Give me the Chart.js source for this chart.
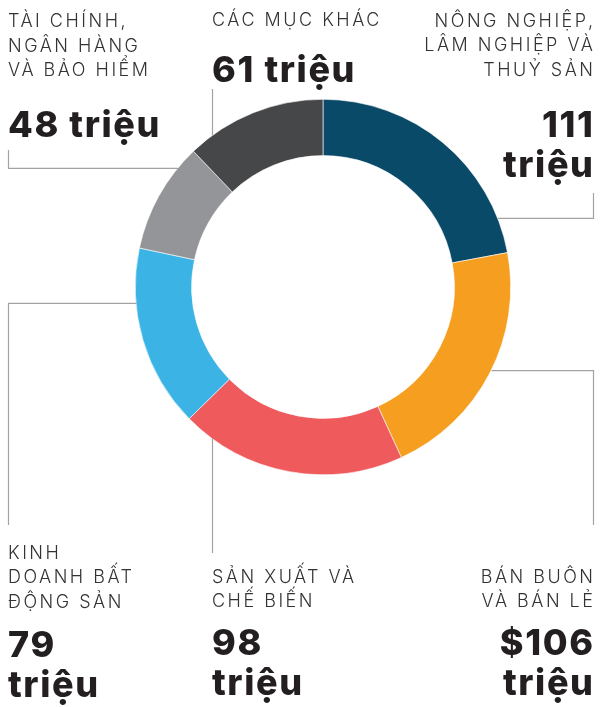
<!DOCTYPE html>
<html lang="vi">
<head>
<meta charset="utf-8">
<title>Doughnut</title>
<script src="https://cdn.jsdelivr.net/npm/chart.js@4.4.1/dist/chart.umd.min.js"></script>
<style>
    body { margin: 0; background: #fff; }
    #wrap { position: relative; width: 603px; height: 707px; overflow: hidden; }
    #wrap canvas { position: absolute; left: 0; top: 0; }
    .lbl {
        position: absolute;
        font-family: Inter, "Noto Sans", sans-serif;
        font-weight: 300;
        font-size: 18px;
        line-height: 24.5px;
        letter-spacing: 2.5px;
        color: #333;
        white-space: nowrap;
    }
    .num {
        position: absolute;
        font-family: Inter, "Noto Sans", sans-serif;
        font-weight: 800;
        font-size: 36px;
        line-height: 40px;
        letter-spacing: 1.6px;
        color: #231f20;
        white-space: nowrap;
    }
    .right { text-align: right; }
    .lbl.right { margin-right: -2.5px; }
    .num.right { margin-right: -1.6px; }
</style>
</head>
<body>
<div id="wrap">
    <canvas id="donut" width="603" height="707"></canvas>
</div>
<script>
// data, clockwise from 12 o'clock
const categories = [
    ['NÔNG NGHIỆP,', 'LÂM NGHIỆP VÀ', 'THUỶ SẢN'],
    ['BÁN BUÔN', 'VÀ BÁN LẺ'],
    ['SẢN XUẤT VÀ', 'CHẾ BIẾN'],
    ['KINH', 'DOANH BẤT', 'ĐỘNG SẢN'],
    ['TÀI CHÍNH,', 'NGÂN HÀNG', 'VÀ BẢO HIỂM'],
    ['CÁC MỤC KHÁC']
];
const values = [111, 106, 98, 79, 48, 61];
const valueLabels = [
    ['111', 'triệu'],
    ['$106', 'triệu'],
    ['98', 'triệu'],
    ['79', 'triệu'],
    ['48 triệu'],
    ['61 triệu']
];
const colors = ['#0a4a69', '#f59e1f', '#ef5a5c', '#3bb4e5', '#939598', '#464749'];

// where each label block sits (page pixels)
const labelPos = [
    { right: 10, top: 8.5, numTop: 103.5 },
    { right: 10, top: 564.5, numTop: 621.8 },
    { left: 212, top: 564.5, numTop: 621.8 },
    { left: 8, top: 540.5, numTop: 623.5 },
    { left: 8, top: 9.2, numTop: 103.8 },
    { left: 212, top: 8.2, numTop: 48.5 }
];

// leader lines: points, last one snaps onto the ring ('h' = along a row, 'v' = along a column)
const leaders = [
    { pts: [[593, 193], [593, 218.3]], snap: 'h', side: 1 },
    { pts: [[593, 525], [593, 370.7]], snap: 'h', side: 1 },
    { pts: [[212, 553]], snap: 'v', side: 1 },
    { pts: [[8, 525], [8, 303.3]], snap: 'h', side: -1 },
    { pts: [[8, 150], [8, 168.3]], snap: 'h', side: -1 },
    { pts: [[212, 89]], snap: 'v', side: -1 }
];

function buildLabels() {
    const wrap = document.getElementById('wrap');
    categories.forEach((lines, i) => {
        const p = labelPos[i];
        const isRight = p.right !== undefined;
        const lbl = document.createElement('div');
        lbl.className = 'lbl' + (isRight ? ' right' : '');
        lbl.innerHTML = lines.join('<br>');
        const num = document.createElement('div');
        num.className = 'num' + (isRight ? ' right' : '');
        num.innerHTML = valueLabels[i].join('<br>');
        [lbl, num].forEach(el => {
            if (isRight) el.style.right = p.right + 'px';
            else el.style.left = p.left + 'px';
        });
        lbl.style.top = p.top + 'px';
        num.style.top = p.numTop + 'px';
        wrap.appendChild(lbl);
        wrap.appendChild(num);
    });
}

const leaderPlugin = {
    id: 'leaders',
    afterDraw(chart) {
        const arc = chart.getDatasetMeta(0).data[0];
        const cx = arc.x, cy = arc.y, R = arc.outerRadius;
        const ctx = chart.ctx;
        ctx.save();
        ctx.strokeStyle = '#a3a3a3';
        ctx.lineWidth = 1.2;
        leaders.forEach(l => {
            const last = l.pts[l.pts.length - 1];
            let end;
            if (l.snap === 'h') {
                const dy = last[1] - cy;
                end = [cx + l.side * Math.sqrt(R * R - dy * dy), last[1]];
            } else {
                const dx = last[0] - cx;
                end = [last[0], cy + l.side * Math.sqrt(R * R - dx * dx)];
            }
            ctx.beginPath();
            ctx.moveTo(l.pts[0][0] + 0.5, l.pts[0][1]);
            l.pts.slice(1).forEach(p => ctx.lineTo(p[0] + 0.5, p[1]));
            ctx.lineTo(end[0] + 0.5, end[1]);
            ctx.stroke();
        });
        ctx.restore();
    }
};

function initChart() {
    const ctx = document.getElementById('donut').getContext('2d');

    new Chart(ctx, {
        type: 'doughnut',
        data: {
            labels: categories.map(c => c.join(' ')),
            datasets: [{
                data: values,
                backgroundColor: colors,
                borderColor: '#ffffff',
                borderWidth: 0.6
            }]
        },
        options: {
            responsive: false,
            animation: false,
            cutout: '70%',
            layout: {
                padding: { left: 135, right: 92, top: 99, bottom: 232 }
            },
            plugins: {
                legend: { display: false },
                tooltip: { enabled: false }
            }
        },
        plugins: [leaderPlugin]
    });
}

buildLabels();
initChart();
</script>
</body>
</html>
